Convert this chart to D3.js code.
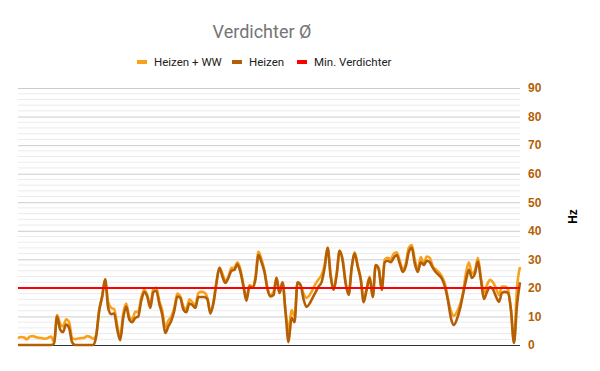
<!DOCTYPE html>
<html>
<head>
<meta charset="utf-8">
<script src="https://cdn.jsdelivr.net/npm/d3@7"></script>
<style>
  body { margin: 0; background: #fff; }
  svg { font-family: Roboto, "Liberation Sans", Arial, sans-serif; }
</style>
</head>
<body>
<svg id="chart" width="600" height="371"></svg>
<script>
let WIDTH = 600, HEIGHT = 371;
let M = { top: 88, right: 80, bottom: 26, left: 18 };

let seriesNames = ["Heizen + WW", "Heizen", "Min. Verdichter"];
let seriesColors = ["#f8a21c", "#b45f06", "#ff0000"];
let yTicks = [0, 10, 20, 30, 40, 50, 60, 70, 80, 90];
let minVerdichter = 20;

// Heizen + WW
let heizenWW = [
    2.4, 2.8, 2.6, 2.0, 3.0, 3.1, 2.7, 2.5, 2.4, 2.2, 2.5, 3.0, 1.0, 10.5, 7.5, 6.5, 9.0, 8.0, 2.5, 2.0,
    2.3, 2.4, 2.5, 3.1, 2.8, 2.2, 3.5, 12, 17, 23, 15, 13, 12.5, 7, 2.8, 11, 14.5, 10, 9, 11.6,
    11.6, 16.5, 19.3, 17.5, 14, 19.5, 20, 15.5, 12, 6.3, 8.5, 10, 13, 18, 17, 13.5, 12.5, 16, 15, 14,
    18.2, 18.6, 18.3, 16.5, 11.5, 15, 22, 27, 25, 22.5, 24, 27, 27, 29, 26.5, 21, 16.5, 21, 20.5, 24,
    32.6, 30, 26, 20, 17.5, 18.5, 23.5, 18.2, 22, 11.6, 5.3, 12.2, 10, 22, 21, 18, 16.5, 17.5, 19.3, 21.5,
    23, 24.5, 28, 34, 25, 19.5, 25, 33, 30, 22, 18, 27, 32.5, 28, 23.5, 16, 20, 24, 16.8, 28,
    27, 19.5, 30, 30.5, 30, 32, 32.5, 29.5, 26.5, 28.5, 34, 35, 30, 26.5, 30.8, 28.7, 31, 30.5, 27.5, 26.5,
    25.5, 24, 21.5, 16.5, 12, 10.2, 11.5, 14, 18, 25, 29, 25, 26, 30.5, 23.5, 18.2, 21, 22.8, 22, 20,
    17.5, 20.5, 20.5, 19.5, 12.2, 1, 20, 27.3
];

// Heizen
let heizen = [
    0, 0, 0, 0, 0, 0, 0, 0, 0, 0, 0, 0, 0.5, 10, 5.5, 4.5, 7.2, 6.0, 1.0, 0,
    0, 0, 0, 0, 0, 0, 3.0, 12, 17, 23, 13, 10.8, 11, 5.5, 1.7, 9.5, 13.5, 9, 8, 9.5,
    10, 15.5, 18.5, 17, 13, 18.5, 19, 14.5, 10.5, 4.2, 6.5, 8.5, 12, 17, 16.5, 12.5, 11.5, 14.5, 14, 13,
    16.8, 16.8, 16.8, 16, 11, 14.5, 21.5, 27, 24, 21.7, 23.5, 26, 26.3, 28.3, 25.5, 20.5, 15.5, 20.5, 20, 23,
    31.5, 29, 25.5, 19.5, 17, 17.5, 23.5, 18.2, 22, 11.6, 1, 9.5, 8, 22, 21, 16, 13.3, 14.5, 16.5, 18.5,
    20.5, 22, 27, 34, 24, 19.3, 24.5, 33, 29.5, 21.5, 17.5, 27, 32, 27.5, 23, 15, 19.5, 23.5, 16.8, 28,
    26.5, 19.3, 29, 29.5, 29, 30.5, 31.5, 28.5, 25.6, 27.5, 32.5, 34, 28.5, 25.6, 29, 28, 29.5, 29, 27, 25.5,
    24.5, 23.2, 20.5, 15.8, 9.5, 7, 9, 12.5, 17.5, 22.5, 26.3, 23.5, 25, 29.2, 22.8, 16.1, 18.5, 20.3, 19.5, 17,
    15.1, 18.2, 18.6, 18.2, 12.2, 0.7, 14, 22
];

let svg = d3.select("#chart");
let plotW = WIDTH - M.left - M.right;
let plotH = HEIGHT - M.top - M.bottom;

let x = d3.scaleLinear()
    .domain([0, heizenWW.length - 1])
    .range([M.left, M.left + plotW]);

let y = d3.scaleLinear()
    .domain([0, 90])
    .range([M.top + plotH, M.top]);

// minor gridlines every 2
let minor = d3.range(2, 90, 2).filter(v => v % 10 !== 0);
svg.append("g")
    .selectAll("line")
    .data(minor)
    .join("line")
    .attr("x1", M.left).attr("x2", M.left + plotW)
    .attr("y1", d => y(d)).attr("y2", d => y(d))
    .attr("stroke", "#ebebeb")
    .attr("stroke-width", 1);

// right axis with major gridlines
let axis = d3.axisRight(y)
    .tickValues(yTicks)
    .tickSize(-plotW)
    .tickPadding(8);

let gAxis = svg.append("g")
    .attr("transform", `translate(${M.left + plotW},0)`)
    .call(axis);
gAxis.select(".domain").remove();
gAxis.selectAll(".tick line")
    .attr("stroke", d => d === 0 ? "#333" : "#cccccc");
gAxis.selectAll(".tick text")
    .attr("fill", "#b45f06")
    .attr("font-size", "12px")
    .attr("font-weight", "bold")
    .attr("font-family", "Arial, 'Liberation Sans', sans-serif")
    .attr("x", 8);

// y axis title
svg.append("text")
    .attr("transform", `translate(577, ${y(45)}) rotate(-90)`)
    .attr("text-anchor", "middle")
    .attr("font-size", "12px")
    .attr("font-weight", "bold")
    .attr("font-family", "Arial, 'Liberation Sans', sans-serif")
    .attr("fill", "#000")
    .text("Hz");

let line = d3.line()
    .x((d, i) => x(i))
    .y(d => y(d))
    .curve(d3.curveMonotoneX);

svg.append("path")
    .datum(heizenWW)
    .attr("d", line)
    .attr("fill", "none")
    .attr("stroke", seriesColors[0])
    .attr("stroke-width", 2.6)
    .attr("stroke-linejoin", "round");

svg.append("path")
    .datum(heizen)
    .attr("d", line)
    .attr("fill", "none")
    .attr("stroke", seriesColors[1])
    .attr("stroke-width", 2.6)
    .attr("stroke-linejoin", "round");

svg.append("line")
    .attr("x1", x(0)).attr("x2", x(heizenWW.length - 1))
    .attr("y1", y(minVerdichter)).attr("y2", y(minVerdichter))
    .attr("stroke", seriesColors[2])
    .attr("stroke-width", 2);

// title
svg.append("text")
    .attr("x", 262)
    .attr("y", 38)
    .attr("text-anchor", "middle")
    .attr("font-size", "18px")
    .attr("fill", "#757575")
    .text("Verdichter Ø");

// legend
let legendX = [137, 232, 297];
let lg = svg.append("g").attr("class", "legend");
seriesNames.forEach(function (name, i) {
    lg.append("rect")
        .attr("x", legendX[i]).attr("y", 60)
        .attr("width", 10).attr("height", 4)
        .attr("fill", seriesColors[i]);
    lg.append("text")
        .attr("x", legendX[i] + 17)
        .attr("y", 66)
        .attr("font-size", "11.5px")
        .attr("fill", "#222")
        .text(name);
});
</script>
</body>
</html>
